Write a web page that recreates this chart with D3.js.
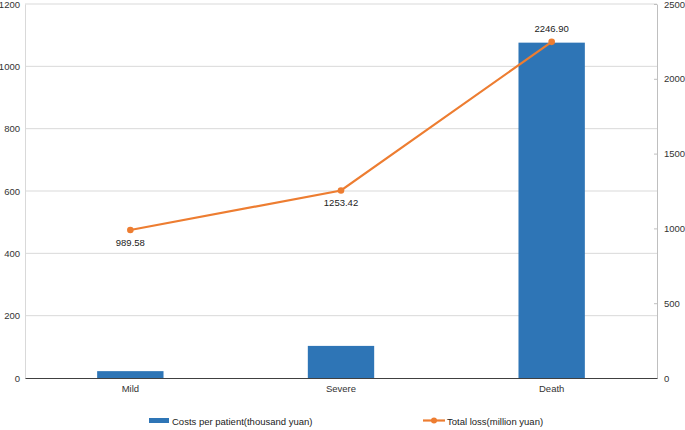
<!DOCTYPE html>
<html>
<head>
<meta charset="utf-8">
<script src="https://cdn.jsdelivr.net/npm/d3@7"></script>
<style>
  body { margin: 0; background: #fff; }
  text { font-family: "Liberation Sans", Arial, sans-serif; }
</style>
</head>
<body>
<div id="chart"></div>
<script>
const categories = ["Mild", "Severe", "Death"];
const costsPerPatient = [22, 103, 1076];
const totalLoss = [989.58, 1253.42, 2246.90];
const leftTicks = [0, 200, 400, 600, 800, 1000, 1200];
const rightTicks = [0, 500, 1000, 1500, 2000, 2500];
const seriesNames = ["Costs per patient(thousand yuan)", "Total loss(million yuan)"];

const width = 685, height = 430;
const m = { top: 4, right: 28, bottom: 52, left: 25 };
const blue = "#2e75b6", orange = "#ed7d31";
const fs = "9.5px";

const svg = d3.select("#chart").append("svg")
  .attr("width", width).attr("height", height);

const x = d3.scaleBand()
  .domain(categories)
  .range([m.left, width - m.right]);

const yL = d3.scaleLinear().domain([0, 1200]).range([height - m.bottom, m.top]);
const yR = d3.scaleLinear().domain([0, 2500]).range([height - m.bottom, m.top]);

// gridlines
svg.append("g")
  .selectAll("line")
  .data(leftTicks.filter(d => d > 0))
  .join("line")
    .attr("x1", m.left).attr("x2", width - m.right)
    .attr("y1", d => yL(d)).attr("y2", d => yL(d))
    .attr("stroke", "#d9d9d9").attr("stroke-width", 1);

// left axis
const gl = svg.append("g")
  .attr("transform", `translate(${m.left},0)`)
  .call(d3.axisLeft(yL).tickValues(leftTicks).tickFormat(d3.format("d")).tickSize(0).tickPadding(5));
gl.select(".domain").attr("stroke", "#d9d9d9");
gl.selectAll("text").attr("fill", "#333").style("font-size", fs);

// right axis
const gr = svg.append("g")
  .attr("transform", `translate(${width - m.right},0)`)
  .call(d3.axisRight(yR).tickValues(rightTicks).tickFormat(d3.format("d"))
    .tickSizeInner(-3).tickSizeOuter(0).tickPadding(7));
gr.select(".domain").attr("stroke", "#bfbfbf");
gr.selectAll(".tick line").attr("stroke", "#bfbfbf");
gr.selectAll("text").attr("fill", "#333").style("font-size", fs);

// bars
const barW = x.bandwidth() * 0.315;
svg.append("g")
  .selectAll("rect")
  .data(categories)
  .join("rect")
    .attr("x", (d) => x(d) + x.bandwidth() / 2 - barW / 2)
    .attr("width", barW)
    .attr("y", (d, i) => yL(costsPerPatient[i]))
    .attr("height", (d, i) => yL(0) - yL(costsPerPatient[i]))
    .attr("fill", blue);

// bottom axis
const gb = svg.append("g")
  .attr("transform", `translate(0,${height - m.bottom})`)
  .call(d3.axisBottom(x).tickSize(0).tickPadding(7));
gb.select(".domain").attr("stroke", "#404040").attr("stroke-width", 1.2);
gb.selectAll("text").attr("fill", "#333").style("font-size", fs);

// line
const cx = d => x(d) + x.bandwidth() / 2;
const line = d3.line()
  .x((d, i) => cx(categories[i]))
  .y(d => yR(d));
svg.append("path")
  .datum(totalLoss)
  .attr("d", line)
  .attr("fill", "none")
  .attr("stroke", orange)
  .attr("stroke-width", 2.2);
svg.append("g")
  .selectAll("circle")
  .data(totalLoss)
  .join("circle")
    .attr("cx", (d, i) => cx(categories[i]))
    .attr("cy", d => yR(d))
    .attr("r", 3.3)
    .attr("fill", orange);

// labels
const labelOffset = [16, 16, -10];
svg.append("g")
  .selectAll("text")
  .data(totalLoss)
  .join("text")
    .attr("x", (d, i) => cx(categories[i]))
    .attr("y", (d, i) => yR(d) + labelOffset[i])
    .attr("text-anchor", "middle")
    .attr("fill", "#222")
    .style("font-size", fs)
    .text(d => d.toFixed(2));

// legend
const lg = svg.append("g").attr("transform", `translate(0,${height - 5})`);
lg.append("rect").attr("x", 149).attr("y", -7).attr("width", 20).attr("height", 5).attr("fill", blue);
lg.append("text").attr("x", 172).attr("y", 0).attr("fill", "#222").style("font-size", fs).text(seriesNames[0]);
lg.append("line").attr("x1", 423).attr("x2", 445).attr("y1", -4.5).attr("y2", -4.5)
  .attr("stroke", orange).attr("stroke-width", 2.2);
lg.append("circle").attr("cx", 434).attr("cy", -4.5).attr("r", 3).attr("fill", orange);
lg.append("text").attr("x", 447).attr("y", 0).attr("fill", "#222").style("font-size", fs).text(seriesNames[1]);
</script>
</body>
</html>
